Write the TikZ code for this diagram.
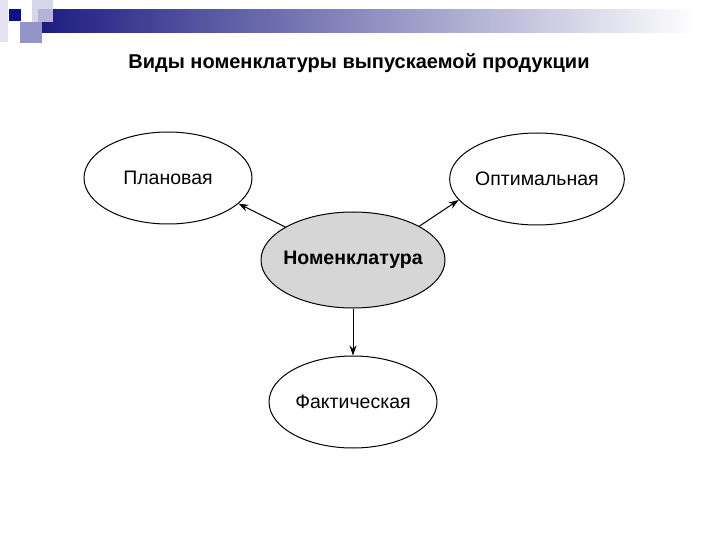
\documentclass[tikz,border=0pt]{standalone}
\usepackage{fontspec}
\setmainfont{Liberation Sans}
\usetikzlibrary{shapes.geometric, positioning, arrows.meta}
\definecolor{bardark}{HTML}{1C1C80}
\definecolor{sqdark}{HTML}{10108A}
\definecolor{sqmid}{HTML}{9494C8}
\definecolor{sqpale}{HTML}{CFCFE8}
\definecolor{nomgray}{HTML}{D6D6D6}
\tikzset{
  kind/.style={ellipse, draw=black, line width=1pt, minimum width=168pt, minimum height=92pt, inner sep=0pt, font=\fontsize{19.5}{22}\selectfont},
  core/.style={kind, fill=nomgray, minimum width=184pt, minimum height=96pt, inner xsep=-7pt, font=\fontsize{19.5}{22}\selectfont\bfseries},
  arrow/.style={line width=1pt,-{Stealth[length=10pt,width=7pt]}}
}
\begin{document}
\begin{tikzpicture}[x=1pt, y=-1pt]
    \useasboundingbox (0,0) rectangle (720,540);

    % Leiste oben links
    \fill[sqpale!60] (0,0) rectangle (8,42);
    \shade[left color=bardark, right color=white] (38,10) rectangle (695,33);
    \fill[sqpale, opacity=0.85] (32,0) rectangle (53,22);
    \fill[sqdark] (9,9) rectangle (21,21);
    \fill[sqmid] (20,22) rectangle (42,43);

    % Titel
    \node[font=\fontsize{20}{24}\selectfont\bfseries] (title) at (359,63) {Виды номенклатуры выпускаемой продукции};

    % Ellipsen
    \node[core] (nom) at (353,260) {Номенклатура};
    \node[kind] (plan) at (168,178) {Плановая};
    \node[kind] (opt) at (537,179) {Оптимальная};
    \node[kind] (fact) at (353,402) {Фактическая};

    % Pfeile
    \draw[arrow] (nom.154) -- (plan.-20);
    \draw[arrow] (nom.27) -- (opt.195);
    \draw[arrow] (nom.south) -- (fact.north);

\end{tikzpicture}
\end{document}
